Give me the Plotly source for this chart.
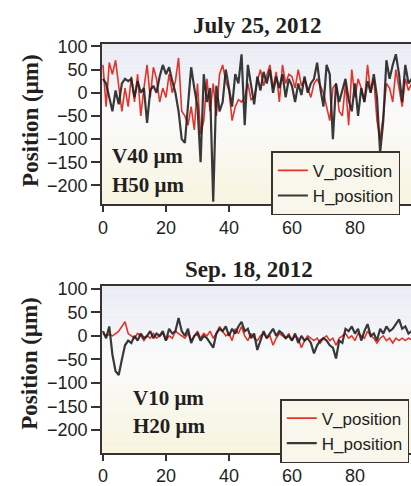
import plotly.graph_objects as go

W, H = 411, 486

x_vals = list(range(0, 99))

top_h = [30, 20, -10, -40, 5, -25, 20, 30, 25, 30, -10, 25, 0, 10, -65, 5, 15, 0, 35, 60,
         40, 55, 25, 0, -40, -100, -108, -20, 55, 10, -30, -150, 40, -20, 10, -235, 15, -40, -20, 50,
         10, -30, 40, 20, 83, -70, 60, 15, -25, 35, 5, 45, 20, 50, 0, 35, 10, 40, -10, 30,
         15, -20, 20, -5, 35, 0, 20, 30, 65, 10, -30, 60, 40, -100, 20, -20, 5, 30, -15, -40,
         20, -50, 10, -20, 25, 0, 40, -10, -130, -60, 70, 30, 60, 83, 40, -20, 60, 20, 30]
top_v = [60, -30, 65, 40, 70, 20, -40, 10, -30, 35, -20, 40, -50, 10, 60, -10, 55, 30, -20, 10,
         -10, 40, 0, 25, 75, -40, -50, -70, -30, -80, 20, -90, -60, 30, -40, 20, -50, 40, 60, 25,
         5, -60, -30, -15, -20, -10, 20, -15, -10, 25, 50, 15, 35, 60, 10, 45, -20, 60, 20, 40,
         35, 10, 50, 15, 30, 10, -10, 20, 30, 15, 0, -30, -60, 10, 20, -40, -50, 20, -70, 50,
         -10, 30, 10, -20, 60, 0, 30, -60, -100, -50, 20, 10, -20, 50, 10, -30, 30, 5, 20]

bot_h = [10, -5, 20, -40, -75, -83, -50, -20, -10, -15, 0, -10, 5, -5, 0, 10, -5, 5, 0, 10,
         -10, 15, 5, 10, 38, 10, 0, 15, -15, 0, 5, -10, 0, -5, -15, -25, 5, 15, 10, 20,
         0, 15, 5, 20, 30, 10, 15, -5, 5, -30, -10, 10, -5, 5, 15, 0, 10, 5, -5, 0,
         -10, 5, -15, 0, -10, -5, -15, -37, -20, -10, -5, -10, -20, -25, -48, -10, -15, 15, 10, 20,
         5, 15, -10, 10, 25, 0, 5, -10, 15, 5, 20, 10, 15, 25, 35, 15, 20, 5, 10]
bot_v = [5, 0, 3, 0, 5, 10, 20, 30, 5, 0, -5, 5, 0, -10, 0, -5, 5, -5, 0, 5,
         -10, 0, -5, 10, 5, 0, -5, 5, -10, 0, 10, -5, 5, 0, 10, -5, 5, 20, 10, 0,
         5, -10, 15, 5, 20, 0, -10, 5, -5, -10, 0, 5, -5, 0, -20, -5, 5, 0, -5, 5,
         -10, 0, -5, -25, -10, 0, -5, -10, -5, -15, -5, 0, -10, -5, -20, -5, 0, 5, -5, 0,
         -10, 5, 0, -5, 10, 0, -5, -15, -5, 0, -10, -5, -15, -5, -10, -5, -10, -5, -8]

titles = ["July 25, 2012", "Sep. 18, 2012"]
labels_top = ["V40 μm", "H50 μm"]
labels_bot = ["V10 μm", "H20 μm"]
y_ticks = [100, 50, 0, -50, -100, -150, -200]
x_ticks = [0, 20, 40, 60, 80]

RED = "#e2342b"
BLK = "rgba(30,30,30,0.88)"
SERIF = "Liberation Serif"
SANS = "Liberation Sans"


def px(x):
    return x / W


def py(y):
    return 1 - y / H


fig = go.Figure()
fig.add_trace(go.Scatter(x=x_vals, y=top_v, mode="lines", name="V_position",
                         line=dict(color=RED, width=1.6), xaxis="x", yaxis="y", legend="legend"))
fig.add_trace(go.Scatter(x=x_vals, y=top_h, mode="lines", name="H_position",
                         line=dict(color=BLK, width=2.2), xaxis="x", yaxis="y", legend="legend"))
fig.add_trace(go.Scatter(x=x_vals, y=bot_v, mode="lines", name="V_position",
                         line=dict(color=RED, width=1.6), xaxis="x2", yaxis="y2", legend="legend2"))
fig.add_trace(go.Scatter(x=x_vals, y=bot_h, mode="lines", name="H_position",
                         line=dict(color=BLK, width=2.2), xaxis="x2", yaxis="y2", legend="legend2"))

xdom = [px(99), 1.0]
axis_common = dict(showgrid=False, zeroline=False, showline=True, linecolor="#3a3232",
                   linewidth=2, ticks="outside", tickcolor="#3a3232", tickwidth=2,
                   tickfont=dict(family=SANS, size=18, color="#231f20"))

legend_common = dict(xanchor="left", yanchor="top", bgcolor="#f9f7ec", bordercolor="#3a3232",
                     borderwidth=1.5, font=dict(family=SANS, size=17, color="#231f20"),
                     tracegroupgap=0, itemwidth=30)

fig.update_layout(
    width=W, height=H, margin=dict(l=0, r=0, t=0, b=0),
    paper_bgcolor="white", plot_bgcolor="rgba(0,0,0,0)",
    xaxis=dict(domain=xdom, range=[-0.3, 97.8], anchor="y", tickvals=x_ticks, ticklen=6,
               mirror=True, **axis_common),
    yaxis=dict(domain=[py(202), py(38)], range=[-240, 105], anchor="x", tickvals=y_ticks,
               ticklen=9, **axis_common),
    xaxis2=dict(domain=xdom, range=[-0.3, 97.8], anchor="y2", tickvals=x_ticks, ticklen=6,
                mirror=True, **axis_common),
    yaxis2=dict(domain=[py(457), py(286)], range=[-248, 106], anchor="x2", tickvals=y_ticks,
                ticklen=9, **axis_common),
    legend=dict(x=px(270), y=py(148), **legend_common),
    legend2=dict(x=px(279), y=py(402), **legend_common),
)

# gradient background bands
stops = [(0.0, (233, 235, 244)), (0.45, (250, 250, 250)), (1.0, (247, 244, 222))]


def color_at(t):
    for (t0, c0), (t1, c1) in zip(stops[:-1], stops[1:]):
        if t0 <= t <= t1:
            f = (t - t0) / (t1 - t0)
            return "rgb(%d,%d,%d)" % tuple(round(a + (b - a) * f) for a, b in zip(c0, c1))
    return "rgb(%d,%d,%d)" % stops[-1][1]


N = 30
for xr, yr in [("x domain", "y domain"), ("x2 domain", "y2 domain")]:
    for i in range(N):
        t = (i + 0.5) / N
        fig.add_shape(type="rect", xref=xr, yref=yr, x0=0, x1=1,
                      y0=1 - (i + 1) / N, y1=1 - i / N,
                      fillcolor=color_at(t), line=dict(width=0), layer="below")

ann = []
title_pos = [(255, 19), (247, 269)]
for t, (cx, cy) in zip(titles, title_pos):
    ann.append(dict(text="<b>" + t + "</b>", x=px(cx), y=py(cy), xref="paper", yref="paper",
                    showarrow=False, xanchor="center", yanchor="middle",
                    font=dict(family=SERIF, size=23, color="#231f20")))
for cy in [116, 365]:
    ann.append(dict(text="<b>Position (μm)</b>", x=px(26), y=py(cy), xref="paper", yref="paper",
                    showarrow=False, textangle=-90, xanchor="center", yanchor="middle",
                    font=dict(family=SERIF, size=23, color="#231f20")))
for labs, lx, ys in [(labels_top, 107, [153, 182]), (labels_bot, 128, [401, 430])]:
    for lab, cy in zip(labs, ys):
        ann.append(dict(text="<b>" + lab + "</b>", x=px(lx), y=py(cy), xref="paper", yref="paper",
                        showarrow=False, xanchor="left", yanchor="middle",
                        font=dict(family=SERIF, size=21, color="#231f20")))
fig.update_layout(annotations=ann)

fig.write_html("out.html")
